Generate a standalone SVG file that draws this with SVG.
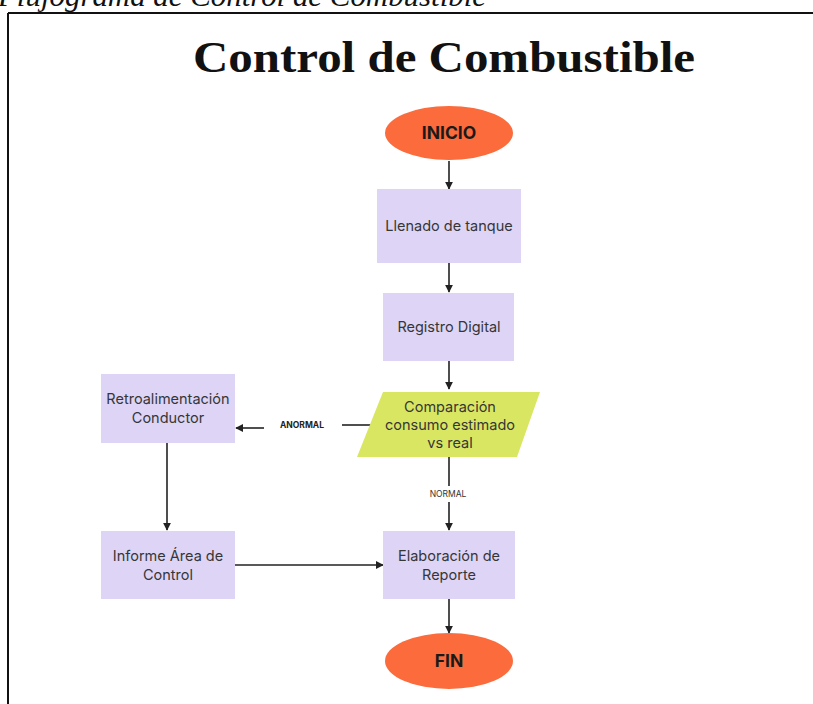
<svg xmlns="http://www.w3.org/2000/svg" width="813" height="704" viewBox="0 0 813 704">
  <defs>
    <marker id="ah" viewBox="0 0 10 10" refX="9" refY="5" markerWidth="8" markerHeight="8" markerUnits="userSpaceOnUse" orient="auto">
      <path d="M0,0 L10,5 L0,10 z" fill="#222"/>
    </marker>
    <style>
      .box { fill: #DDD4F6; }
      .term { fill: #FB6B3C; }
      .dec { fill: #D9E661; }
      .t { font-family: Inter, "Noto Sans", sans-serif; font-size: 14.5px; fill: #363636; text-anchor: middle; }
      .tb { font-family: Inter, "Noto Sans", sans-serif; font-size: 17.5px; font-weight: 700; fill: #1a1a1a; text-anchor: middle; }
      .lbl { font-family: Inter, "Noto Sans", sans-serif; text-anchor: middle; }
      .c { stroke: #222; stroke-width: 1.6; fill: none; }
      .ca { stroke: #222; stroke-width: 1.6; fill: none; marker-end: url(#ah); }
    </style>
  </defs>
  <rect width="813" height="704" fill="#ffffff"/>

  <text x="-2" y="6" font-family="'Liberation Serif', serif" font-style="italic" font-size="30" fill="#111" textLength="488" lengthAdjust="spacingAndGlyphs">Flujograma de Control de Combustible</text>
  <path d="M8,13 H813 M8,13 V704" stroke="#111" stroke-width="2" fill="none"/>

  <text x="193" y="72" font-family="'Liberation Serif', serif" font-weight="700" font-size="44" fill="#111" textLength="502" lengthAdjust="spacingAndGlyphs">Control de Combustible</text>

  <g id="connectors">
    <line class="ca" x1="449" y1="161" x2="449" y2="189"/>
    <line class="ca" x1="449" y1="263" x2="449" y2="292"/>
    <line class="ca" x1="449" y1="361" x2="449" y2="389"/>
    <line class="c" x1="373" y1="425" x2="342" y2="425"/>
    <line class="ca" x1="264" y1="428" x2="236" y2="428"/>
    <text class="lbl" x="302" y="428" font-size="8.5" font-weight="700" fill="#222">ANORMAL</text>
    <line class="ca" x1="167" y1="443" x2="167" y2="530"/>
    <line class="c" x1="449" y1="457" x2="449" y2="486"/>
    <text class="lbl" x="448" y="497" font-size="8.5" fill="#333">NORMAL</text>
    <line class="ca" x1="449" y1="502" x2="449" y2="530"/>
    <line class="ca" x1="235" y1="565" x2="383" y2="565"/>
    <line class="ca" x1="449" y1="599" x2="449" y2="633"/>
  </g>

  <g id="inicio">
    <ellipse class="term" cx="449" cy="133" rx="64" ry="27"/>
    <text class="tb" x="449" y="139">INICIO</text>
  </g>
  <g id="llenado">
    <rect class="box" x="377" y="189" width="144" height="74"/>
    <text class="t" x="449" y="231">Llenado de tanque</text>
  </g>
  <g id="registro">
    <rect class="box" x="383" y="293" width="131" height="68"/>
    <text class="t" x="449" y="332">Registro Digital</text>
  </g>
  <g id="comparacion">
    <polygon class="dec" points="383,392 540,392 517,457 357,457"/>
    <text class="t" x="450" y="412">Comparación</text>
    <text class="t" x="450" y="430">consumo estimado</text>
    <text class="t" x="450" y="448">vs real</text>
  </g>
  <g id="retroalimentacion">
    <rect class="box" x="101" y="374" width="134" height="69"/>
    <text class="t" x="168" y="404">Retroalimentación</text>
    <text class="t" x="168" y="423">Conductor</text>
  </g>
  <g id="informe">
    <rect class="box" x="101" y="531" width="134" height="68"/>
    <text class="t" x="168" y="561">Informe Área de</text>
    <text class="t" x="168" y="580">Control</text>
  </g>
  <g id="elaboracion">
    <rect class="box" x="383" y="531" width="132" height="68"/>
    <text class="t" x="449" y="561">Elaboración de</text>
    <text class="t" x="449" y="580">Reporte</text>
  </g>
  <g id="fin">
    <ellipse class="term" cx="449" cy="661" rx="64" ry="28"/>
    <text class="tb" x="449" y="667">FIN</text>
  </g>
</svg>
